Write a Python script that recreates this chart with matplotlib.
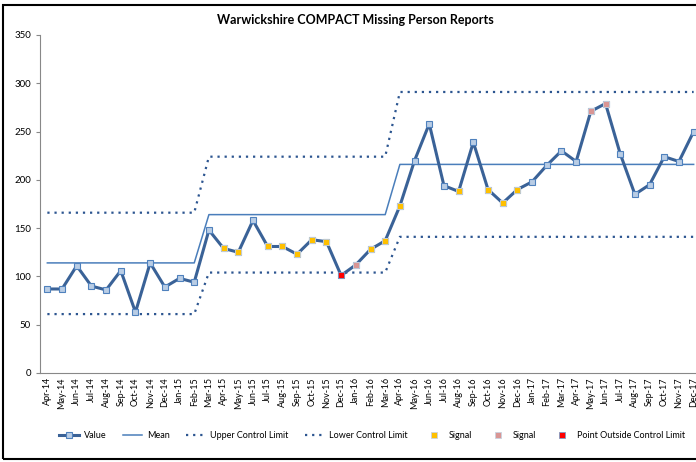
import matplotlib.pyplot as plt
import numpy as np
from matplotlib.patches import Rectangle

plt.rcParams['font.family'] = ['Lato', 'DejaVu Sans']

months = ['Apr-14', 'May-14', 'Jun-14', 'Jul-14', 'Aug-14', 'Sep-14', 'Oct-14', 'Nov-14', 'Dec-14',
          'Jan-15', 'Feb-15', 'Mar-15', 'Apr-15', 'May-15', 'Jun-15', 'Jul-15', 'Aug-15', 'Sep-15',
          'Oct-15', 'Nov-15', 'Dec-15', 'Jan-16', 'Feb-16', 'Mar-16', 'Apr-16', 'May-16', 'Jun-16',
          'Jul-16', 'Aug-16', 'Sep-16', 'Oct-16', 'Nov-16', 'Dec-16', 'Jan-17', 'Feb-17', 'Mar-17',
          'Apr-17', 'May-17', 'Jun-17', 'Jul-17', 'Aug-17', 'Sep-17', 'Oct-17', 'Nov-17', 'Dec-17']
values = [87, 87, 111, 90, 86, 106, 63, 114, 89, 98, 94,
          148, 129, 125, 158, 131, 131, 123, 138, 136, 101, 112, 128, 137,
          173, 220, 258, 194, 188, 239, 190, 176, 190, 198, 215, 230, 219, 271, 279, 227, 185, 195, 224, 219, 250]
# mean / limits per phase: Apr-14..Feb-15, Mar-15..Mar-16, Apr-16..Dec-17
phase_len = [11, 13, 21]
phase_mean = [114, 164, 216]
phase_ucl = [166, 224, 291]
phase_lcl = [61, 104, 141]
signal1 = ['Apr-15', 'May-15', 'Jul-15', 'Aug-15', 'Sep-15', 'Oct-15', 'Nov-15', 'Feb-16', 'Mar-16',
           'Apr-16', 'Aug-16', 'Oct-16', 'Nov-16', 'Dec-16']
signal2 = ['Jan-16', 'May-17', 'Jun-17']
outside = ['Dec-15']

x = np.arange(len(months))
mean = np.repeat(phase_mean, phase_len)
ucl = np.repeat(phase_ucl, phase_len)
lcl = np.repeat(phase_lcl, phase_len)
vals = np.array(values)

def idx(names):
    return [months.index(n) for n in names]

fig = plt.figure(figsize=(6.96, 4.62), dpi=100)
ax = fig.add_axes([40/696, 1 - 373/462, 661/696, 338/462])

blue = '#3A6297'
ax.plot(x, vals, color=blue, lw=2.2, marker='s', ms=5, mfc='#B9CDE5', mec='#4F81BD', mew=0.8,
        label='Value', zorder=4)
ax.plot(x, mean, color='#4A7EBB', lw=1.1, label='Mean', zorder=3)
ax.plot(x, ucl, color='#2C5590', lw=1.6, ls=(0, (1, 2.2)), label='Upper Control Limit', zorder=3)
ax.plot(x, lcl, color='#2C5590', lw=1.6, ls=(0, (1, 2.2)), label='Lower Control Limit', zorder=3)
i1 = idx(signal1)
ax.plot(x[i1], vals[i1], ls='none', marker='s', ms=4, mfc='#FFC000', mec='#C9D3E0', mew=0.6,
        label='Signal', zorder=5)
i2 = idx(signal2)
ax.plot(x[i2], vals[i2], ls='none', marker='s', ms=4, mfc='#D99594', mec='#C9D3E0', mew=0.6,
        label='Signal', zorder=5)
i3 = idx(outside)
ax.plot(x[i3], vals[i3], ls='none', marker='s', ms=5, mfc='#FF0000', mec='#7F9CC4', mew=0.6,
        label='Point Outside Control Limit', zorder=5)

ax.set_xlim(-0.5, len(months) - 0.5)
ax.set_ylim(0, 350)
ax.set_yticks(range(0, 351, 50))
ax.set_xticks(x)
ax.set_xticklabels(months, rotation=90, fontsize=6.5)
ax.tick_params(axis='y', labelsize=7, length=3, color='#888888')
ax.tick_params(axis='x', length=0, pad=3)
for s in ['top', 'right']:
    ax.spines[s].set_visible(False)
for s in ['left', 'bottom']:
    ax.spines[s].set_color('#888888')
    ax.spines[s].set_linewidth(0.8)

fig.text(355/696, 1 - 20/462, 'Warwickshire COMPACT Missing Person Reports', ha='center', va='center',
         fontsize=9, fontweight='bold')

leg = fig.legend(loc='center', bbox_to_anchor=(372/696, 1 - 436/462), ncol=7, frameon=False, fontsize=6.5,
                 handlelength=2.2, columnspacing=1.8, handletextpad=0.5)

fig.patches.append(Rectangle((3/696, 3/462), 1.0, 1 - 8/462, transform=fig.transFigure, fill=False,
                             edgecolor='black', lw=1.5))

fig.savefig('out.png', dpi=100)
